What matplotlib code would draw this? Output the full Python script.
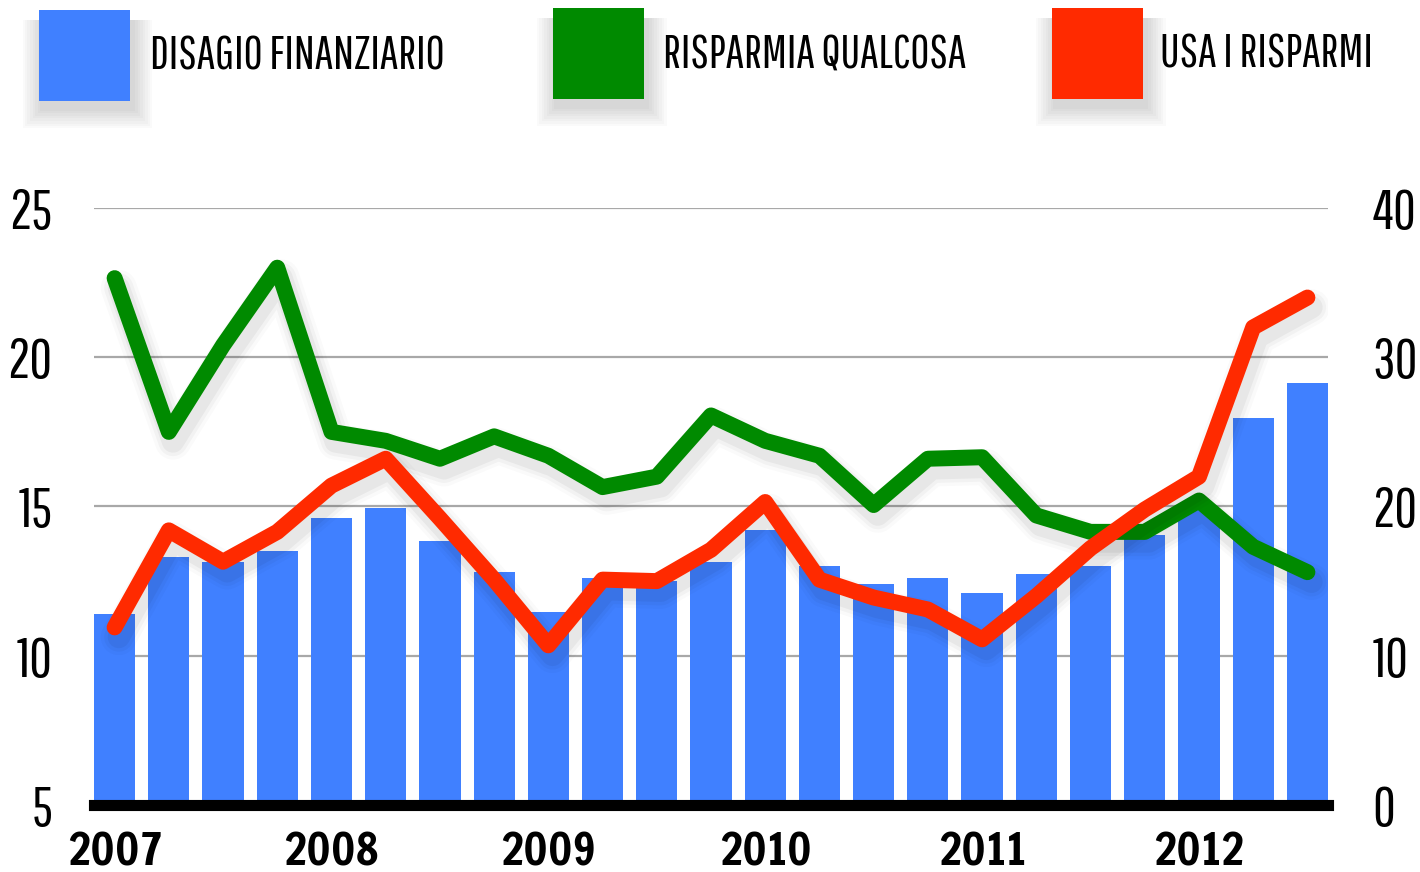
import matplotlib
matplotlib.use("Agg")
import matplotlib.pyplot as plt
import matplotlib.patheffects as pe
from matplotlib.patches import Rectangle
from matplotlib import font_manager

# ---- data ----
quarters = list(range(23))
year_labels = ["2007", "2008", "2009", "2010", "2011", "2012"]
year_positions = [0, 4, 8, 12, 16, 20]
disagio = [11.4, 13.3, 13.15, 13.5, 14.6, 14.95, 13.85, 12.8, 11.45, 12.6, 12.5,
           13.15, 14.2, 13.0, 12.4, 12.6, 12.1, 12.75, 13.0, 14.05, 14.9, 17.95, 19.15]
risparmia = [35.3, 25.0, 30.8, 36.0, 25.0, 24.4, 23.2, 24.7, 23.4, 21.3, 22.0,
             26.1, 24.4, 23.4, 20.1, 23.2, 23.3, 19.4, 18.3, 18.3, 20.4, 17.3, 15.6]
usa = [11.9, 18.4, 16.3, 18.3, 21.4, 23.2, 19.2, 15.1, 10.7, 15.1, 15.0,
       17.1, 20.3, 15.1, 13.9, 13.1, 11.1, 14.0, 17.2, 19.8, 22.0, 32.0, 34.0]
left_ticks = [5, 10, 15, 20, 25]
right_ticks = [0, 10, 20, 30, 40]
legend_labels = ["DISAGIO FINANZIARIO", "RISPARMIA QUALCOSA", "USA I RISPARMI"]

BLUE = "#4080FF"
GREEN = "#008A00"
RED = "#FF2A00"

names = {f.name for f in font_manager.fontManager.ttflist}
if "Pathway Gothic One" in names:
    TXT_FONT = ["Pathway Gothic One", "DejaVu Sans"]
    TICK_FS, LEG_FS = 40, 33.5
else:
    TXT_FONT = ["DejaVu Sans"]
    TICK_FS, LEG_FS = 26, 22
if "Francois One" in names:
    YEAR_FONT = ["Francois One", "DejaVu Sans"]
    YEAR_FS, YEAR_W, YEAR_PAD = 32, "normal", 20
elif "Anton" in names:
    YEAR_FONT = ["Anton", "DejaVu Sans"]
    YEAR_FS, YEAR_W, YEAR_PAD = 29, "normal", 20
else:
    YEAR_FONT = ["DejaVu Sans"]
    YEAR_FS, YEAR_W, YEAR_PAD = 26, "bold", 18
plt.rcParams["font.family"] = TXT_FONT

fig = plt.figure(figsize=(14.2, 8.72), dpi=100)
W, H = 1420, 872
ax = fig.add_axes([94 / W, 1 - 805 / H, (1328 - 94) / W, (805 - 208) / H])
ax2 = ax.twinx()

def soft_line_shadow():
    effs = []
    for lw, a in [(26, 0.02), (21, 0.03), (16, 0.045)]:
        effs.append(pe.SimpleLineShadow(offset=(3, -7), shadow_color="k", alpha=a, linewidth=lw))
    effs.append(pe.Normal())
    return effs

ax.bar(quarters, [v - 5 for v in disagio], bottom=5, width=0.76, color=BLUE, zorder=2)

ax.set_xlim(-0.38, 22.38)
ax.set_ylim(5, 25)
ax2.set_ylim(0, 40)

for y in [10, 15, 20, 25]:
    ax.axhline(y, color="#A8A8A8", lw=1.6, zorder=1)
ax.axhline(5, color="black", lw=8, zorder=4, clip_on=False)

ax2.plot(quarters, risparmia, color=GREEN, lw=11.5, solid_capstyle="round",
         solid_joinstyle="round", path_effects=soft_line_shadow(), zorder=3)
ax2.plot(quarters, usa, color=RED, lw=11.5, solid_capstyle="round",
         solid_joinstyle="round", path_effects=soft_line_shadow(), zorder=4)

for a in (ax, ax2):
    for s in a.spines.values():
        s.set_visible(False)
    a.tick_params(length=0)

ax.set_yticks(left_ticks)
ax.set_yticklabels([str(t) for t in left_ticks], fontsize=TICK_FS)
ax.tick_params(axis="y", pad=30)
ax2.set_yticks(right_ticks)
ax2.set_yticklabels([str(t) for t in right_ticks], fontsize=TICK_FS)
ax2.tick_params(axis="y", pad=32)
ax.set_xticks(year_positions)
ax.set_xticklabels(year_labels, fontsize=YEAR_FS, fontweight=YEAR_W, family=YEAR_FONT)
ax.tick_params(axis="x", pad=YEAR_PAD)

# ---- legend ----
legend_boxes = [(39, 10), (553, 8), (1052, 8)]
legend_colors = [BLUE, GREEN, RED]
text_x = [150, 663, 1160]
S = 91
for (x0, y0), c, lab, tx in zip(legend_boxes, legend_colors, legend_labels, text_x):
    for i in range(8):
        grow = 2 + 2.5 * i
        top = y0 + 10
        bottom = y0 + S + 8 + grow
        sh = Rectangle(((x0 - grow + 3) / W, 1 - bottom / H), (S + 2 * grow) / W, (bottom - top) / H,
                       transform=fig.transFigure, facecolor="k", edgecolor="none", alpha=0.02)
        fig.patches.append(sh)
    r = Rectangle((x0 / W, 1 - (y0 + S) / H), S / W, S / H, transform=fig.transFigure,
                  facecolor=c, edgecolor="none")
    fig.patches.append(r)
    fig.text(tx / W, 1 - (y0 + 46) / H, lab, fontsize=LEG_FS, va="center", ha="left")

fig.savefig("out.png", dpi=100, facecolor="white")
